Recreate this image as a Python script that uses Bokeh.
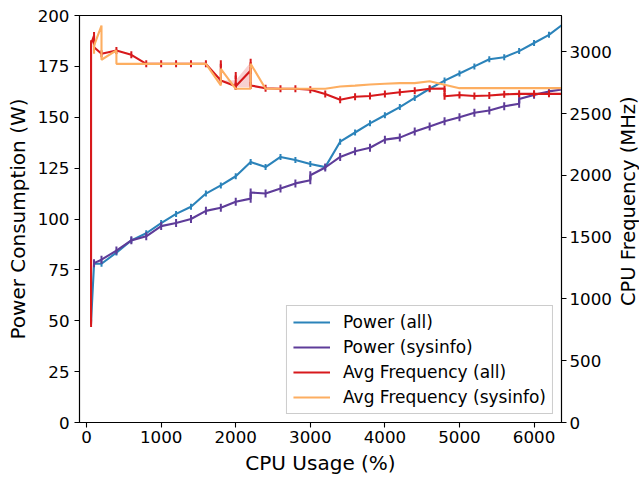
import math
from bokeh.plotting import figure
from bokeh.layouts import row
from bokeh.models import Range1d, LinearAxis, FixedTicker, Legend, LegendItem
from bokeh.core.properties import value
from bokeh.embed import file_html
from bokeh.resources import INLINE

# ---------------- data ----------------
x_ticks = [0, 1000, 2000, 3000, 4000, 5000, 6000]
power_ticks = [0, 25, 50, 75, 100, 125, 150, 175, 200]
freq_ticks = [0, 500, 1000, 1500, 2000, 2500, 3000]

pw_all_x = [60, 100, 200, 400, 600, 800, 1000, 1200, 1400, 1600, 1800, 2000, 2200, 2400,
            2600, 2800, 3000, 3200, 3400, 3600, 3800, 4000, 4200, 4400, 4600, 4800, 5000,
            5200, 5400, 5600, 5800, 6000, 6200, 6400]
pw_all_y = [49.5, 78, 78, 83.5, 89.5, 93, 98, 102.5, 106, 112.5, 116.5, 121, 128, 125.5,
            130.5, 129, 127, 125.5, 138, 142.5, 147, 151, 155, 159.5, 164, 168, 171.5,
            175, 178.5, 179.5, 182.5, 186.5, 190.5, 196]

pw_sys_x = [100, 200, 400, 600, 800, 1000, 1200, 1400, 1600, 1800, 2000, 2200, 2200, 2400,
            2600, 2800, 3000, 3000, 3200, 3400, 3600, 3800, 4000, 4200, 4400, 4600, 4800,
            5000, 5200, 5400, 5600, 5800, 5800, 6000, 6200, 6400]
pw_sys_y = [78.3, 80, 84.5, 89.5, 91.5, 96.5, 98, 100, 104, 105.5, 108.5, 110, 113, 112.5,
            115, 117.5, 119, 121.5, 125.3, 130.5, 133.3, 135, 139, 140, 143, 145.5, 148,
            150, 152.2, 153.3, 155.4, 156.6, 159, 161, 162.7, 163.8]

fr_all_x = [60, 60, 100, 100, 200, 400, 600, 800, 1000, 1200, 1400, 1600, 1800, 1800, 1800,
            2000, 2000, 2000, 2200, 2200, 2200, 2400, 2600, 2800, 3000, 3200, 3400, 3600,
            3800, 4000, 4200, 4400, 4600, 4800, 4800, 5000, 5200, 5400, 5600, 5800, 6000,
            6200, 6400]
fr_all_y = [800, 3064, 3131, 3036, 2983, 3010, 2975, 2902, 2902, 2902, 2902, 2902, 2767, 2902,
            2767, 2720, 2807, 2720, 2848, 2915, 2727, 2705, 2700, 2700, 2692, 2657, 2612, 2635,
            2642, 2658, 2672, 2684, 2700, 2702, 2640, 2650, 2642, 2646, 2655, 2659, 2659,
            2659, 2659]

fr_sys_x = [100, 100, 200, 200, 400, 400, 600, 800, 1000, 1200, 1400, 1600, 1800, 1800, 2000,
            2200, 2200, 2400, 2600, 2800, 3000, 3200, 3400, 3600, 3800, 4000, 4200, 4400,
            4600, 4800, 5000, 5200, 5400, 5600, 5800, 6000, 6200, 6400]
fr_sys_y = [2983, 3050, 3212, 2935, 3010, 2902, 2902, 2902, 2902, 2902, 2902, 2902, 2727, 2862,
            2700, 2700, 2902, 2700, 2700, 2700, 2700, 2700, 2718, 2726, 2735, 2741, 2746, 2746,
            2761, 2732, 2705, 2705, 2705, 2705, 2705, 2705, 2705, 2705]

band_x = [1800, 2000, 2200]
band_lo = [2767, 2713, 2713]
band_hi = [2767, 2770, 2915]

labels = ["Power (all)", "Power (sysinfo)", "Avg Frequency (all)", "Avg Frequency (sysinfo)"]
colors = ["#2b83ba", "#5e3c99", "#d7191c", "#fdae61"]
freq_axis_title = "CPU Frequency (MHz)"

FONT = "DejaVu Sans"
W_MAIN, W_SIDE, H = 615, 24, 479

# ---------------- main figure ----------------
p = figure(width=W_MAIN, height=H, output_backend="svg", toolbar_location=None,
           x_range=Range1d(-95, 6368), y_range=Range1d(0, 200),
           min_border_left=79, min_border_right=54, min_border_top=15, min_border_bottom=57,
           x_axis_label="CPU Usage (%)", y_axis_label="Power Consumption (W)")
p.extra_y_ranges = {"freq": Range1d(0, 3293)}
p.xgrid.visible = False
p.ygrid.visible = False
p.outline_line_color = "black"
p.outline_line_width = 1.1
p.outline_line_alpha = 1.0
p.background_fill_color = "white"
p.border_fill_color = "white"

p.xaxis.ticker = FixedTicker(ticks=x_ticks)
p.yaxis.ticker = FixedTicker(ticks=power_ticks)

raxis = LinearAxis(y_range_name="freq", ticker=FixedTicker(ticks=freq_ticks))
p.add_layout(raxis, "right")


def style(ax, lab_stand, tick_stand):
    ax.axis_line_color = "black"
    ax.axis_line_width = 1.1
    ax.major_tick_out = 5
    ax.major_tick_in = 0
    ax.minor_tick_out = 0
    ax.minor_tick_in = 0
    ax.major_tick_line_width = 1.1
    ax.major_tick_line_color = "black"
    ax.major_label_text_font = FONT
    ax.major_label_text_font_size = "16.7px"
    ax.major_label_text_color = "black"
    ax.major_label_standoff = tick_stand
    ax.axis_label_text_font = FONT
    ax.axis_label_text_font_size = "20px"
    ax.axis_label_text_font_style = "normal"
    ax.axis_label_text_color = "black"
    ax.axis_label_standoff = lab_stand


style(p.xaxis[0], 5, 3)
style(p.yaxis[0], 5, 5)
style(raxis, 2, 3)

# ---------------- glyphs ----------------
LW = 2.1
r_pa = p.line(pw_all_x, pw_all_y, line_color=colors[0], line_width=LW)
p.scatter(pw_all_x, pw_all_y, marker="dash", angle=math.pi / 2, size=6,
          line_color=colors[0], line_width=2)
r_ps = p.line(pw_sys_x, pw_sys_y, line_color=colors[1], line_width=LW)
p.scatter(pw_sys_x, pw_sys_y, marker="dash", angle=math.pi / 2, size=8,
          line_color=colors[1], line_width=2)

p.varea(x=band_x, y1=band_lo, y2=band_hi, fill_color=colors[2], fill_alpha=0.2,
        y_range_name="freq")
r_fa = p.line(fr_all_x, fr_all_y, line_color=colors[2], line_width=LW, y_range_name="freq")
p.scatter(fr_all_x, fr_all_y, marker="dash", angle=math.pi / 2, size=7,
          line_color=colors[2], line_width=2, y_range_name="freq")
r_fs = p.line(fr_sys_x, fr_sys_y, line_color=colors[3], line_width=LW, y_range_name="freq")

legend = Legend(items=[LegendItem(label=labels[i], renderers=[r])
                       for i, r in enumerate([r_pa, r_ps, r_fa, r_fs])],
                location="bottom_right")
legend.margin = 8
legend.padding = 6
legend.spacing = 5
legend.label_height = 20
legend.glyph_height = 20
legend.glyph_width = 37
legend.label_standoff = 13
legend.label_text_font = FONT
legend.label_text_font_size = "17px"
legend.label_text_color = "black"
legend.border_line_color = "#cccccc"
legend.border_line_width = 1
legend.border_line_alpha = 1.0
legend.background_fill_color = "white"
legend.background_fill_alpha = 0.8
p.add_layout(legend)

# ---------------- narrow side strip holding the right-axis title ----------------
# (reads bottom-to-top like the reference; range 0..H maps 1:1 to pixels)
q = figure(width=W_SIDE, height=H, output_backend="svg", toolbar_location=None,
           x_range=Range1d(0, W_SIDE), y_range=Range1d(0, H),
           x_axis_type=None, y_axis_type=None,
           min_border_left=0, min_border_right=0, min_border_top=0, min_border_bottom=0)
q.grid.visible = False
q.outline_line_color = None
q.background_fill_color = "white"
q.border_fill_color = "white"
q.text(x=[12.5], y=[H - 218.5], text=[freq_axis_title], angle=math.pi / 2,
       text_align="center", text_baseline="middle",
       text_font=value(FONT), text_font_size="19.5px", text_color="black")

layout = row(p, q, spacing=0)
open("out.html", "w").write(file_html(layout, INLINE))
